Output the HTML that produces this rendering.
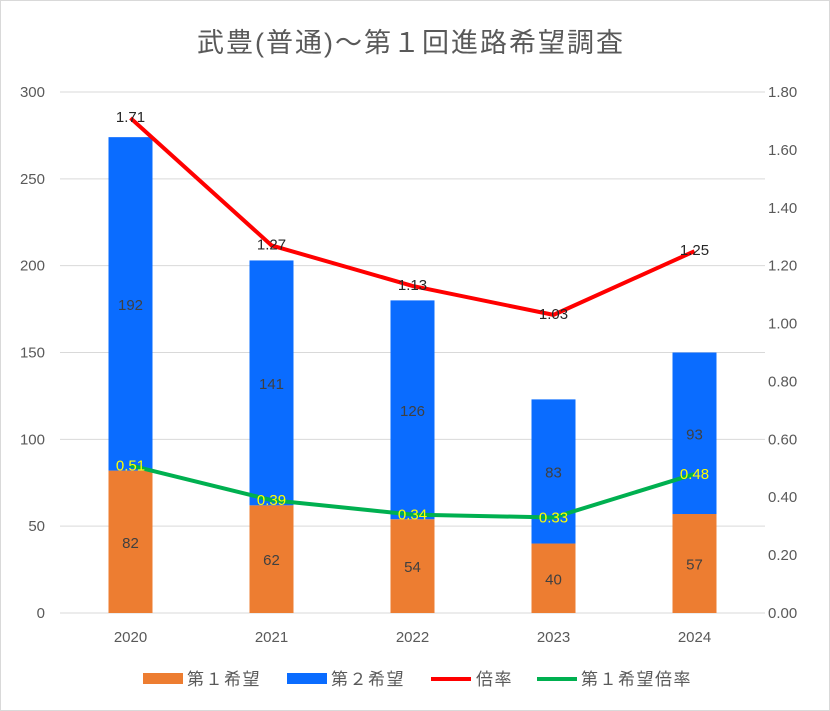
<!DOCTYPE html>
<html><head><meta charset="utf-8">
<style>
body{margin:0;background:#fff}
svg{display:block;font-family:"Liberation Sans","Noto Sans CJK JP",sans-serif}
</style></head>
<body>
<svg id="c" width="830" height="711" viewBox="0 0 830 711">
<rect x="0.5" y="0.5" width="829" height="710" fill="#fff" stroke="#d9d9d9"/>
<text x="411" y="52" text-anchor="middle" font-size="27" letter-spacing="2" fill="#595959">武豊(普通)～第１回進路希望調査</text>
<g id="grid"></g><g id="bars"></g><g id="lines"></g><g id="labels"></g><g id="axes"></g>
<g font-size="17" letter-spacing="1.5" fill="#595959">
<rect x="143" y="673" width="40" height="11" fill="#ED7D31"/>
<text x="187" y="685">第１希望</text>
<rect x="287" y="673" width="40" height="11" fill="#0A6CFF"/>
<text x="331" y="685">第２希望</text>
<line x1="431" y1="679" x2="471" y2="679" stroke="#FF0000" stroke-width="4"/>
<text x="476" y="685">倍率</text>
<line x1="537" y1="679" x2="577" y2="679" stroke="#00B050" stroke-width="4"/>
<text x="581" y="685">第１希望倍率</text>
</g>
</svg>
<script>
const categories=["2020","2021","2022","2023","2024"];
const firstChoice=[82,62,54,40,57];
const secondChoice=[192,141,126,83,93];
const ratio=[1.71,1.27,1.13,1.03,1.25];
const firstRatio=[0.51,0.39,0.34,0.33,0.48];
const leftTicks=[0,50,100,150,200,250,300];
const rightTicks=["0.00","0.20","0.40","0.60","0.80","1.00","1.20","1.40","1.60","1.80"];
const NS="http://www.w3.org/2000/svg";
const X0=60,X1=765,Y0=613,Y1=92;
const yL=v=>Y0-(v/300)*(Y0-Y1);
const yR=v=>Y0-(v/1.8)*(Y0-Y1);
const step=(X1-X0)/categories.length;
const xC=i=>X0+step*(i+0.5);
function mk(tag,attrs,parent,txt){const e=document.createElementNS(NS,tag);for(const k in attrs)e.setAttribute(k,attrs[k]);if(txt!==undefined)e.textContent=txt;document.getElementById(parent).appendChild(e);return e;}
leftTicks.forEach(t=>{
 const g=mk("line",{x1:X0,x2:X1,y1:yL(t),y2:yL(t),stroke:"#d9d9d9","stroke-width":1},"grid");
 
 
 const l=mk("text",{x:45,y:yL(t)+5,"text-anchor":"end","font-size":15,fill:"#595959"},"axes",String(t));
 
 
});
rightTicks.forEach(t=>{
 const l=mk("text",{x:768,y:yR(parseFloat(t))+5,"font-size":15,fill:"#595959"},"axes",t);
 
 
});
const bw=44;
categories.forEach((c,i)=>{
 const x=xC(i)-bw/2;
 const a=mk("rect",{x:x,y:yL(firstChoice[i]),width:bw,height:Y0-yL(firstChoice[i]),fill:"#ED7D31"},"bars");
 
 
 const top=firstChoice[i]+secondChoice[i];
 const b=mk("rect",{x:x,y:yL(top),width:bw,height:yL(firstChoice[i])-yL(top),fill:"#0A6CFF"},"bars");
 
 
 const l1=mk("text",{x:xC(i),y:(yL(firstChoice[i])+Y0)/2+6,"text-anchor":"middle","font-size":15,fill:"#404040"},"labels",String(firstChoice[i]));
 
 
 const l2=mk("text",{x:xC(i),y:(yL(top)+yL(firstChoice[i]))/2+6,"text-anchor":"middle","font-size":15,fill:"#404040"},"labels",String(secondChoice[i]));
 
 
 const xl=mk("text",{x:xC(i),y:642,"text-anchor":"middle","font-size":15,fill:"#595959"},"axes",c);
 
 
});
const rl=mk("polyline",{points:ratio.map((v,i)=>xC(i)+","+yR(v)).join(" "),fill:"none",stroke:"#FF0000","stroke-width":4,"stroke-linejoin":"round"},"lines");


const gl=mk("polyline",{points:firstRatio.map((v,i)=>xC(i)+","+yR(v)).join(" "),fill:"none",stroke:"#00B050","stroke-width":4,"stroke-linejoin":"round"},"lines");


ratio.forEach((v,i)=>{
 const t=mk("text",{x:xC(i),y:yR(v)+4,"text-anchor":"middle","font-size":15,fill:"#262626"},"labels",v.toFixed(2));
 
 
});
firstRatio.forEach((v,i)=>{
 const t=mk("text",{x:xC(i),y:yR(v)+5,"text-anchor":"middle","font-size":15,fill:"#FFFF00"},"labels",v.toFixed(2));
 
 
});
</script>
</body></html>
